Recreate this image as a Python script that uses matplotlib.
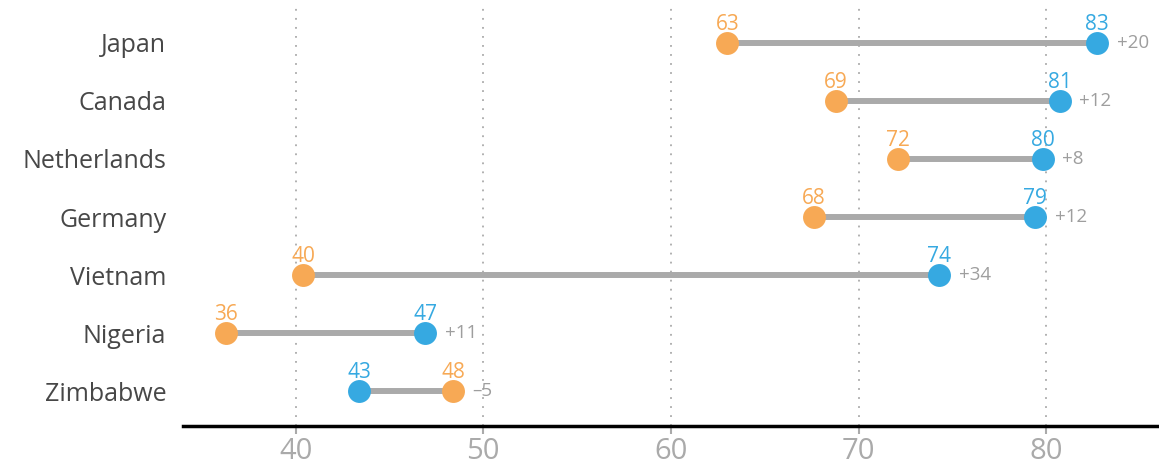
import matplotlib
matplotlib.use("Agg")
import matplotlib.pyplot as plt

countries = ["Japan", "Canada", "Netherlands", "Germany", "Vietnam", "Nigeria", "Zimbabwe"]
start_vals = [63.0, 68.8, 72.1, 67.6, 40.4, 36.3, 48.4]   # orange
end_vals = [82.7, 80.7, 79.8, 79.4, 74.3, 46.9, 43.4]     # blue
x_ticks = [40, 50, 60, 70, 80]

ORANGE = "#F7A955"
BLUE = "#36A9E1"
LINE = "#AAAAAA"
FONT = ["Open Sans", "DejaVu Sans"]

plt.rcParams["font.family"] = FONT

fig = plt.figure(figsize=(11.59, 4.68), dpi=100)
ax = fig.add_axes([183 / 1159, 42 / 468, 976 / 1159, 418 / 468])

ys = list(range(len(countries)))
for y, s, e in zip(ys, start_vals, end_vals):
    ax.plot([s, e], [y, y], color=LINE, lw=4.3, solid_capstyle="butt", zorder=1)
    ax.plot([s], [y], "o", color=ORANGE, ms=16.5, mew=0, zorder=3)
    ax.plot([e], [y], "o", color=BLUE, ms=16.5, mew=0, zorder=3)
    ax.annotate(f"{round(s)}", (s, y), xytext=(0, 9.5), textcoords="offset points",
                ha="center", va="baseline", color=ORANGE, fontsize=15)
    ax.annotate(f"{round(e)}", (e, y), xytext=(0, 9.5), textcoords="offset points",
                ha="center", va="baseline", color=BLUE, fontsize=15)
    d = round(e - s)
    txt = f"+{d}" if d >= 0 else f"\u2013{abs(d)}"
    ax.annotate(txt, (max(s, e), y), xytext=(14, 0), textcoords="offset points",
                ha="left", va="center", color="#9E9E9E", fontsize=13.5)

ax.set_xlim(34, 86)
ax.set_ylim(6.6, -0.6)
ax.set_yticks(ys)
ax.set_yticklabels(countries, fontsize=18, color="#474747", fontweight="medium")
ax.tick_params(axis="y", length=0, pad=12)
ax.set_xticks(x_ticks)
ax.set_xticklabels([str(t) for t in x_ticks], fontsize=21, color="#AAAAAA")
ax.tick_params(axis="x", length=6, width=1.5, color="#AAAAAA", pad=2)

for t in x_ticks:
    ax.axvline(t, color="#AAAAAA", lw=1.3, ls=(0, (1, 4)), zorder=0)

for sp in ["top", "right", "left"]:
    ax.spines[sp].set_visible(False)
ax.spines["bottom"].set_linewidth(2.5)
ax.spines["bottom"].set_color("black")

fig.savefig("out.png", dpi=100)
